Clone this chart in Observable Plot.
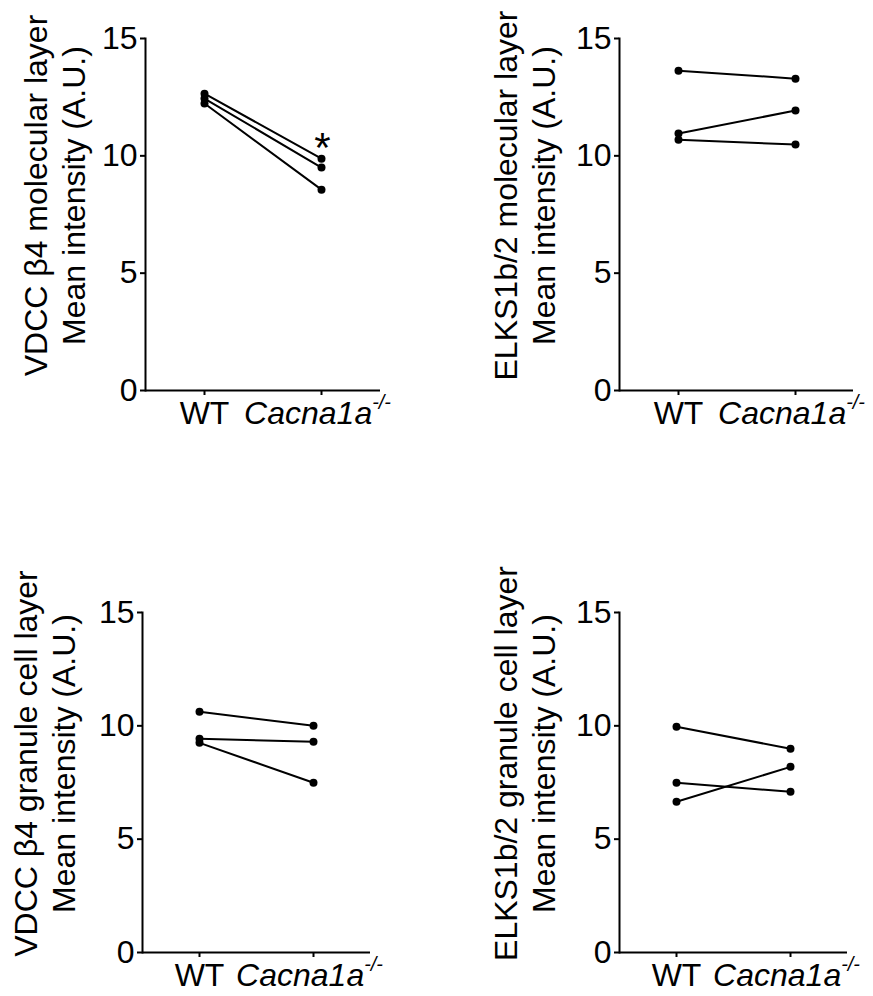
<!DOCTYPE html>
<html>
<head>
<meta charset="utf-8">
<script src="https://cdn.jsdelivr.net/npm/d3@7"></script>
<script src="https://cdn.jsdelivr.net/npm/@observablehq/plot@0.6"></script>
<style>
  html, body { margin: 0; padding: 0; background: #fff; }
  #chart { position: relative; width: 873px; height: 996px; overflow: hidden; font-family: "Liberation Sans", Arial, sans-serif; }
  .panel { position: absolute; }
  .panel svg { overflow: visible; }
</style>
</head>
<body>
<div id="chart"></div>
<script>
// ---- data ----
const groups = ["WT", "Cacna1a-/-"];
const yTicks = [0, 5, 10, 15];

const vdccMolWT = [12.65, 12.44, 12.23];
const vdccMolKO = [9.88, 9.50, 8.56];
const elksMolWT = [13.63, 10.95, 10.69];
const elksMolKO = [13.29, 11.93, 10.48];
const vdccGclWT = [10.62, 9.43, 9.25];
const vdccGclKO = [10.00, 9.30, 7.49];
const elksGclWT = [9.96, 7.49, 6.65];
const elksGclKO = [8.99, 7.09, 8.19];

const panelLabels = [
  "VDCC β4 molecular layer\nMean intensity (A.U.)",
  "ELKS1b/2 molecular layer\nMean intensity (A.U.)",
  "VDCC β4 granule cell layer\nMean intensity (A.U.)",
  "ELKS1b/2 granule cell layer\nMean intensity (A.U.)"
];
const significance = [["*"], [], [], []]; // asterisk over Cacna1a-/- in panel 1

const seriesWT = [vdccMolWT, elksMolWT, vdccGclWT, elksGclWT];
const seriesKO = [vdccMolKO, elksMolKO, vdccGclKO, elksGclKO];

// ---- layout (positions only) ----
const layout = [
  {left: 0,   top: 0,   ml: 145, mt: 38, fw: 235, fh: 352, mb: 56, ldx: -92},
  {left: 474, top: 0,   ml: 145, mt: 38, fw: 234, fh: 352, mb: 56, ldx: -96},
  {left: 0,   top: 574, ml: 142, mt: 38, fw: 228, fh: 340, mb: 44, ldx: -99},
  {left: 477, top: 574, ml: 142, mt: 38, fw: 228, fh: 340, mb: 44, ldx: -96}
];

const FONT = "Liberation Sans, Arial, sans-serif";
const chart = document.getElementById("chart");

layout.forEach((L, i) => {
  const rows = [];
  seriesWT[i].forEach((v, k) => {
    rows.push({subject: k, group: groups[0], value: v});
    rows.push({subject: k, group: groups[1], value: seriesKO[i][k]});
  });
  const koRows = rows.filter(r => r.group === groups[1]);
  const topKO = koRows.reduce((a, b) => (b.value > a.value ? b : a));
  const stars = significance[i].map(s => ({group: groups[1], value: topKO.value, text: s}));

  const svg = Plot.plot({
    width: L.ml + L.fw + 20,
    height: L.mt + L.fh + L.mb,
    marginLeft: L.ml,
    marginRight: 20,
    marginTop: L.mt,
    marginBottom: L.mb,
    style: {fontFamily: FONT, color: "#000", background: "transparent", overflow: "visible"},
    x: {type: "point", domain: groups, padding: 0.5, axis: null},
    y: {domain: [0, 15], axis: null},
    marks: [
      Plot.axisY({ticks: yTicks, tickSize: 5, tickPadding: 3, fontSize: 32, label: null, strokeWidth: 2}),
      Plot.axisX({tickSize: 5, tickPadding: 6, fontSize: 32, label: null, strokeWidth: 2}),
      Plot.frame({anchor: "left", strokeWidth: 2}),
      Plot.ruleY([0], {strokeWidth: 2}),
      Plot.line(rows, {x: "group", y: "value", z: "subject", stroke: "#000", strokeWidth: 2}),
      Plot.dot(rows, {x: "group", y: "value", r: 4, fill: "#000", stroke: "none"}),
      Plot.text(stars, {x: "group", y: "value", text: "text", fontSize: 42, dy: -10, dx: 1, fill: "#000"}),
      Plot.text([panelLabels[i]], {text: d => d, frameAnchor: "left", textAnchor: "middle", lineAnchor: "middle", rotate: -90, dx: L.ldx, dy: -19, fontSize: 32, lineHeight: 1.2, fill: "#000"})
    ]
  });

  // italic gene name with superscript genotype
  d3.select(svg).selectAll("text").filter(function () { return this.textContent === groups[1]; })
    .each(function () {
      const t = d3.select(this);
      t.text(null);
      t.attr("dx", "-4");
      t.append("tspan").attr("font-style", "italic").text("Cacna1a");
      t.append("tspan").attr("font-style", "italic").attr("font-size", "0.62em").attr("dy", "-0.75em").text("-/-");
    });

  const div = document.createElement("div");
  div.className = "panel";
  div.style.left = L.left + "px";
  div.style.top = L.top + "px";
  div.appendChild(svg);
  chart.appendChild(div);
});
</script>
</body>
</html>
